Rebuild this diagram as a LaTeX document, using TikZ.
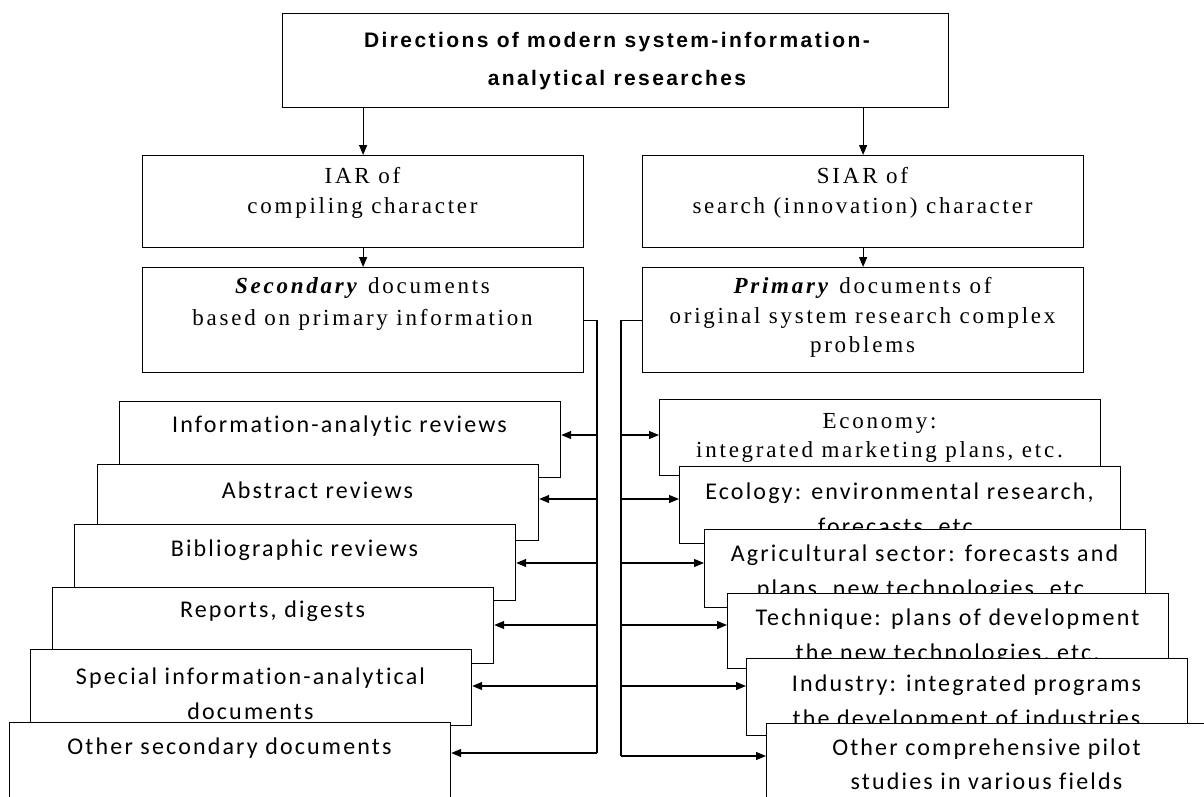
\documentclass[tikz,border=0pt]{standalone}
\usepackage{fontspec}
\setmainfont{Liberation Serif}
\newfontfamily\serifsp{Liberation Serif}[LetterSpace=12,Ligatures=NoCommon]
\newfontfamily\calsp{Carlito}[LetterSpace=9,Ligatures=NoCommon]
\newfontfamily\ttlsp{Liberation Sans}[LetterSpace=11.5,Ligatures=NoCommon]
\usetikzlibrary{arrows.meta}
\tikzset{
  box/.style={draw, fill=white, line width=1.2pt, inner sep=0pt, anchor=north west,
              minimum width=441pt, minimum height=76pt},
  lbl/.style={inner sep=0pt, align=center},
  ser/.style={lbl, font={\serifsp\fontsize{23}{#1}\selectfont}},
  ser/.default=30,
  cal/.style={lbl, font={\calsp\fontsize{24}{#1}\selectfont}},
  cal/.default=35,
  ttl/.style={lbl, font={\ttlsp\bfseries\fontsize{21}{38}\selectfont}},
  arr/.style={line width=1.2pt, -{Triangle[length=10pt,width=8pt]}},
  con/.style={line width=1.2pt},
}
\begin{document}
\begin{tikzpicture}[x=1pt,y=-1pt]
\useasboundingbox (0,0) rectangle (1204,796);
% top
\node[box, minimum width=666pt, minimum height=94pt] (top) at (282,13) {};
\node[ttl] (topt) at (617,61) {Directions of modern system-information-\\analytical researches};
% second level
\node[box, minimum height=92pt] (iar) at (142,155) {};
\node[ser] (iart) at (362.5,193) {IAR of\\compiling character};
\node[box, minimum height=92pt] (siar) at (642,155) {};
\node[ser] (siart) at (862.5,193) {SIAR of\\search (innovation) character};
% third level
\node[box, minimum height=105pt] (sec) at (142,267) {};
\node[ser=32] (sect) at (362.5,304) {\textbf{\textit{Secondary}} documents\\based on primary information};
\node[box, minimum height=105pt] (pri) at (642,267) {};
\node[ser=29.5] (prit) at (862.5,317.5) {\textbf{\textit{Primary}} documents of\\original system research complex\\problems};
\draw[arr] (top.south -| iar.north) -- (iar.north);
\draw[arr] (top.south -| siar.north) -- (siar.north);
\draw[arr] (iar.south) -- (sec.north);
\draw[arr] (siar.south) -- (pri.north);
% left stack
\node[box] (b1) at (119,401) {};
\node[cal] (b1t) at (339.5,426) {Information-analytic reviews};
\node[box] (b2) at (97,464) {};
\node[cal] (b2t) at (317.5,490) {Abstract reviews};
\node[box] (b3) at (74,524) {};
\node[cal] (b3t) at (294.5,550) {Bibliographic reviews};
\node[box] (b4) at (52,587) {};
\node[cal] (b4t) at (272.5,611) {Reports, digests};
\node[box] (b5) at (30,649) {};
\node[cal] (b5t) at (250.5,693.5) {Special information-analytical\\documents};
\node[box] (b6) at (9,722) {};
\node[cal] (b6t) at (229.5,748) {Other secondary documents};
% right stack
\node[box] (r1) at (659,399) {};
\node[ser=29] (r1t) at (879.5,437.5) {Economy:\\integrated marketing plans, etc.};
\node[box, minimum height=77pt] (r2) at (679,466) {};
\node[cal] (r2t) at (899.5,510) {Ecology: environmental research,\\forecasts, etc.};
\node[box, minimum height=78pt] (r3) at (704,529) {};
\node[cal] (r3t) at (924.5,573) {Agricultural sector: forecasts and\\plans, new technologies, etc.};
\node[box, minimum height=75pt] (r4) at (727,593) {};
\node[cal] (r4t) at (947.5,637) {Technique: plans of development\\the new technologies, etc.};
\node[box, minimum height=77pt] (r5) at (746,658) {};
\node[cal] (r5t) at (966.5,703) {Industry: integrated programs\\the development of industries};
\node[box, minimum height=80pt] (r6) at (766,723) {};
\node[cal=34] (r6t) at (986.5,764) {Other comprehensive pilot\\studies in various fields};
% left trunk
\coordinate (tL1) at (597,435);
\coordinate (tL2) at (597,499);
\coordinate (tL3) at (597,563);
\coordinate (tL4) at (597,625);
\coordinate (tL5) at (597,686);
\coordinate (tL6) at (597,753);
\draw[con] (sec.east) -| (tL6);
\draw[arr] (tL6) -- (tL6 -| b6.east);
\draw[arr] (tL1) -- (tL1 -| b1.east);
\draw[arr] (tL2) -- (tL2 -| b2.east);
\draw[arr] (tL3) -- (tL3 -| b3.east);
\draw[arr] (tL4) -- (tL4 -| b4.east);
\draw[arr] (tL5) -- (tL5 -| b5.east);
% right trunk
\coordinate (tR1) at (621,435);
\coordinate (tR2) at (621,499);
\coordinate (tR3) at (621,563);
\coordinate (tR4) at (621,625);
\coordinate (tR5) at (621,686);
\coordinate (tR6) at (621,756);
\draw[con] (pri.west) -| (tR6);
\draw[arr] (tR6) -- (tR6 -| r6.west);
\draw[arr] (tR1) -- (tR1 -| r1.west);
\draw[arr] (tR2) -- (tR2 -| r2.west);
\draw[arr] (tR3) -- (tR3 -| r3.west);
\draw[arr] (tR4) -- (tR4 -| r4.west);
\draw[arr] (tR5) -- (tR5 -| r5.west);
\end{tikzpicture}
\end{document}
